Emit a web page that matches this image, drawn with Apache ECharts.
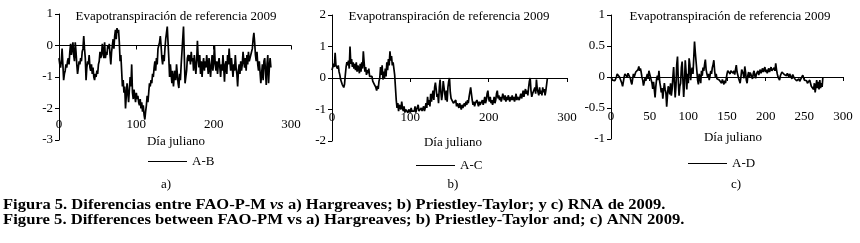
<!DOCTYPE html>
<html>
<head>
<meta charset="utf-8">
<script src="https://cdn.jsdelivr.net/npm/echarts@6/dist/echarts.min.js"></script>
<style>
  html, body { margin: 0; padding: 0; background: #fff; }
  #chart { width: 860px; height: 243px; }
</style>
</head>
<body>
<div id="chart"></div>
<script>
// daily differences, day 0 onward
const diffAB = [
  -0.4, -0.6, -0.7, -0.5, -0.1, -0.6, -1.1, -0.9, -0.8, -0.6,
  -0.7, -0.5, -0.4, -0.6, -0.2, 0.05, -0.3, -0.1, 0.1, -0.3,
  -0.5, 0.1, -0.2, -0.6, -0.9, -0.7, -0.5, -0.6, -0.4, -0.5,
  -0.2, -0.1, 0.3, -0.1, -0.4, -1.1, -0.7, -0.5, -0.6, -0.3,
  -0.7, -0.8, -0.6, -0.9, -0.7, -1.0, -1.1, -0.9, -1.0, -0.8,
  -0.9, -0.6, -0.5, -0.2, -0.4, -0.3, 0.05, -0.2, -0.4, 0.1,
  -0.4, -0.2, -0.3, 0.0, -0.1, 0.05, -0.3, -0.6, -0.2, 0.0,
  0.2, -0.1, 0.3, 0.5, 0.2, 0.55, 0.4, 0.5, 0.1, -0.5,
  -0.3, -0.8, -1.3, -1.1, -1.5, -1.3, -2.0, -1.6, -1.2, -1.5,
  -1.8, -1.4, -1.0, -1.3, -0.6, -1.5, -1.7, -1.4, -1.6, -1.8,
  -1.5, -1.7, -1.6, -1.8, -1.9, -1.7, -2.0, -1.8, -2.1, -1.9,
  -2.2, -2.35, -2.1, -1.9, -1.6, -1.8, -1.5, -1.2, -1.3, -1.1,
  -1.2, -0.9, -1.0, -0.7, -0.5, -0.8, -0.4, -0.6, -0.1, 0.0,
  0.1, 0.3, 0.0, -0.4, -0.6, -0.3, -0.5, -0.1, 0.2, 0.4,
  0.6, 0.1, -0.4, -1.0, -0.6, -0.9, -1.2, -0.8, -1.3, -1.0,
  -0.8, -1.1, -0.6, -0.9, -1.2, -1.35, -0.9, -1.1, -0.6, -0.2,
  0.2, 0.6, -0.3, -1.2, -1.0, -0.8, -0.4, -0.3, -0.5, -0.3,
  -0.6, -0.2, -0.5, -0.4, -0.8, -0.3, -0.6, -0.9, -0.5, 0.15,
  -0.4, -0.7, -0.3, -0.9, -0.5, -1.0, -0.6, -0.4, -0.8, -0.5,
  -0.7, -0.3, -0.6, -0.9, -0.4, -0.7, -1.0, -0.6, -0.3, -0.8,
  -0.5, 0.0, -0.6, -0.8, -0.5, -0.9, -0.6, -0.4, -0.7, -1.0,
  -0.6, -0.8, -0.3, -0.7, -1.15, -0.6, -0.5, -0.9, -0.3, -0.6,
  -0.1, -0.5, -0.8, -0.4, -0.7, -1.0, -0.6, -0.8, -0.3, -0.7,
  -0.9, -1.3, -0.8, -0.6, -0.9, -0.5, -0.8, -0.6, -0.2, -0.5,
  -0.7, -0.4, -0.8, -0.3, -0.6, -0.2, -0.5, -0.4, -0.4, -0.2,
  -0.1, 0.2, 0.4, 0.1, -0.3, -0.5, -0.2, -0.6, -0.8, -0.5,
  -0.5, -1.2, -0.9, -0.6, -1.1, -0.5, -0.4, -0.8, -1.25, -0.6,
  -0.3, -1.2, -0.7, -0.4, -0.7
];

const diffAC = [
  0.25, 0.3, 0.45, 0.35, 0.8, 0.4, 0.45, 0.3, 0.4, 0.2,
  0.1, -0.05, 0.0, -0.2, -0.15, -0.3, -0.2, 0.1, 0.35, 0.5,
  0.4, 0.55, 0.3, 1.0, 0.45, 0.6, 0.35, 0.5, 0.3, 0.45,
  0.25, 0.5, 0.2, 0.4, 0.3, 0.15, 0.45, 0.2, 0.5, 0.3,
  0.85, 0.5, 0.2, 0.35, 0.1, 0.25, 0.15, 0.3, 0.05, 0.1,
  0.0, 0.05, -0.1, -0.05, -0.2, -0.15, -0.3, -0.4, -0.25, -0.35,
  -0.1, 0.0, 0.35, 0.1, 0.4, -0.05, 0.2, 0.0, 0.3, 0.05,
  0.5, 0.25, 0.6, 0.4, 0.85, 0.55, 0.7, 0.4, 0.5, 0.3,
  0.1, -0.3, -0.7, -0.95, -0.8, -1.05, -0.85, -0.9, -1.0, -0.75,
  -0.95, -1.05, -0.9, -1.1, -1.0, -1.05, -0.95, -1.1, -1.0, -1.05,
  -1.1, -0.95, -1.05, -1.0, -1.1, -1.05, -0.9, -1.1, -1.0, -1.05,
  -0.85, -1.05, -1.0, -1.1, -0.95, -1.05, -1.0, -0.9, -1.05, -0.95,
  -0.8, -0.95, -0.6, -0.85, -0.7, -0.9, -0.5, -0.75, -0.55, -0.4,
  -0.7, -0.3, -0.15, -0.35, -0.6, -0.5, -0.8, -0.3, -0.05, -0.45,
  -0.7, -0.5, -0.1, -0.05, -0.5, -0.7, -0.4, -0.75, -0.3, -0.1,
  0.0, -0.45, -0.65, -0.7, -0.6, -0.8, -0.75, -0.85, -0.7, -0.9,
  -0.8, -0.85, -0.95, -0.8, -0.9, -1.0, -0.85, -0.95, -1.0, -0.8,
  -0.9, -0.75, -0.85, -0.7, -0.8, -0.6, -0.45, -0.3, -0.5, -0.7,
  -0.85, -0.75, -0.9, -0.8, -0.85, -0.7, -0.8, -0.9, -0.75, -0.85,
  -0.8, -0.9, -0.7, -0.85, -0.75, -0.6, -0.8, -0.7, -0.5, -0.4,
  -0.65, -0.75, -0.6, -0.8, -0.7, -0.85, -0.75, -0.6, -0.8, -0.7,
  -0.5, -0.4, -0.65, -0.55, -0.7, -0.6, -0.75, -0.65, -0.5, -0.6,
  -0.7, -0.55, -0.75, -0.6, -0.7, -0.55, -0.65, -0.75, -0.6, -0.7,
  -0.55, -0.7, -0.6, -0.75, -0.65, -0.5, -0.7, -0.6, -0.55, -0.7,
  -0.6, -0.5, -0.65, -0.55, -0.4, -0.6, -0.45, -0.35, -0.5, -0.4,
  -0.55, -0.3, -0.1, 0.0, -0.4, -0.6, -0.5, -0.55, -0.45, -0.3,
  -0.5, -0.05, -0.35, -0.45, -0.55, -0.3, -0.5, -0.4, -0.55, -0.3,
  -0.45, -0.35, -0.55, -0.4, -0.2, 0.0
];

const diffAD = [
  0.0, -0.03, -0.05, -0.08, -0.04, -0.06, -0.08, 0.0, 0.05, 0.03,
  0.07, 0.0, -0.02, 0.03, -0.1, -0.15, -0.12, 0.0, 0.05, 0.02,
  0.04, 0.0, 0.06, 0.03, 0.07, -0.02, -0.08, -0.12, -0.03, 0.05,
  0.0, 0.03, 0.08, 0.1, 0.06, 0.12, 0.17, 0.1, 0.14, 0.08,
  0.0, -0.05, -0.14, -0.08, -0.02, -0.06, 0.0, 0.05, -0.03, 0.1,
  0.05, 0.08, 0.02, -0.1, -0.19, -0.08, -0.2, -0.33, -0.15, -0.03,
  0.02, -0.05, 0.1, -0.08, -0.15, -0.25, -0.18, -0.35, -0.22, -0.1,
  -0.2, -0.25, -0.48, -0.3, -0.15, -0.2, -0.28, -0.1, -0.3, -0.2,
  0.0, 0.16, -0.1, -0.33, -0.15, 0.2, 0.33, -0.05, -0.3, -0.15,
  -0.1, 0.15, 0.25, -0.05, -0.32, -0.1, 0.27, 0.1, -0.2, 0.05,
  -0.1, 0.3, 0.2, -0.05, 0.1, 0.15, 0.05, 0.3, 0.57, 0.4,
  0.25, 0.1, -0.05, -0.12, 0.05, 0.0, -0.1, 0.1, 0.02, 0.15,
  0.1, 0.2, 0.28, 0.12, 0.05, 0.0, 0.05, -0.05, 0.02, 0.1,
  0.05, 0.15, 0.2, 0.27, 0.1, 0.0, 0.05, -0.03, -0.05, 0.0,
  -0.05, -0.02, -0.06, -0.1, -0.04, -0.08, -0.12, -0.06, -0.1, -0.03,
  0.05, 0.1, 0.08, 0.12, 0.05, 0.1, 0.08, 0.13, 0.06, 0.1,
  0.04, 0.12, 0.19, 0.08, 0.05, -0.02, -0.05, -0.1, 0.0, 0.12,
  0.15, 0.05, -0.02, 0.17, 0.08, -0.05, -0.1, 0.03, 0.08, 0.0,
  0.07, 0.1, 0.05, -0.03, 0.06, 0.1, 0.02, -0.02, 0.05, 0.08,
  0.1, 0.03, 0.08, 0.12, 0.06, 0.1, 0.14, 0.08, 0.12, 0.16,
  0.08, 0.12, 0.06, 0.1, 0.14, 0.08, 0.12, 0.16, 0.1, 0.13,
  0.08, 0.15, 0.1, 0.22, 0.12, 0.05, 0.0, -0.03, -0.05, 0.02,
  0.05, 0.08, 0.06, 0.1, 0.04, 0.07, 0.05, 0.02, 0.06, 0.03,
  0.0, 0.05, 0.08, 0.02, -0.03, 0.04, 0.06, -0.02, -0.05, -0.03,
  -0.06, -0.04, -0.05, -0.03, -0.07, -0.04, -0.02, 0.0, 0.03, 0.04,
  -0.05, -0.08, -0.04, -0.06, -0.1, -0.08, -0.12, -0.05, -0.1, -0.15,
  -0.12, -0.18, -0.2, -0.1, -0.25, -0.15, -0.05, -0.18, -0.08, -0.2,
  -0.05, -0.18, -0.1, -0.16, 0.0
];

const seriesNames = ['A-B', 'A-C', 'A-D'];
const panelTags = ['a)', 'b)', 'c)'];
const chartTitle = 'Evapotranspiración de referencia 2009';
const xName = 'Día juliano';
const yRanges = [[-3, 1, 1], [-2, 2, 1], [-1, 1, 0.5]];

const font = '"Liberation Serif", "Times New Roman", serif';
const chart = echarts.init(document.getElementById('chart'));

// panel layout: grid box, x label margin (from grid bottom), title / name / legend / tag positions
const panels = [
  { grid: [59, 14, 232, 126], lblMargin: -22, title: [176, 17], name: [176, 142], legend: [148, 155], tag: [166, 185] },
  { grid: [332, 15, 235, 126], lblMargin: -30, title: [449, 17], name: [453, 143], legend: [416, 159], tag: [453, 185] },
  { grid: [611, 15, 232, 124], lblMargin: -29, title: [730, 17], name: [733, 138], legend: [688, 157], tag: [736, 185] }
];
const allData = [diffAB, diffAC, diffAD];

const axisLine = { lineStyle: { color: '#000', width: 1 } };
const labelStyle = { color: '#000', fontFamily: font, fontSize: 13 };

const grids = [], xAxes = [], yAxes = [], series = [], legends = [], texts = [];
panels.forEach((p, i) => {
  grids.push({ left: p.grid[0], top: p.grid[1], width: p.grid[2], height: p.grid[3] });
  xAxes.push({
    gridIndex: i, type: 'value', min: 0, max: 300, interval: i === 2 ? 50 : 100,
    axisLine: { onZero: true, ...axisLine },
    axisTick: { show: true, length: 4, lineStyle: { color: '#000' } },
    axisLabel: { ...labelStyle, margin: p.lblMargin },
    splitLine: { show: false }
  });
  yAxes.push({
    gridIndex: i, type: 'value', min: yRanges[i][0], max: yRanges[i][1], interval: yRanges[i][2],
    axisLine: { show: true, ...axisLine },
    axisTick: { show: true, length: 4, lineStyle: { color: '#000' } },
    axisLabel: { ...labelStyle, margin: 6 },
    splitLine: { show: false }
  });
  series.push({
    name: seriesNames[i], type: 'line', xAxisIndex: i, yAxisIndex: i,
    data: allData[i].map((v, d) => [d, v]),
    showSymbol: false, animation: false,
    lineStyle: { color: '#000', width: 1.7 }, itemStyle: { color: '#000' }
  });
  legends.push({
    data: [seriesNames[i]], left: p.legend[0], top: p.legend[1], padding: 0,
    icon: 'rect', itemWidth: 39, itemHeight: 1.2,
    textStyle: { color: '#000', fontFamily: font, fontSize: 13 }
  });
  [[chartTitle, p.title], [xName, p.name], [panelTags[i], p.tag]].forEach(([t, pos]) => {
    texts.push({
      type: 'text', x: pos[0], y: pos[1],
      style: { text: t, font: '13px ' + font, fill: '#000', align: 'center', verticalAlign: 'middle' }
    });
  });
});

const capStyle = { font: 'bold 14px ' + font, fill: '#000', align: 'left', verticalAlign: 'middle' };
texts.push({
  type: 'text', x: 3, y: 205, scaleX: 1.18,
  style: {
    ...capStyle,
    text: 'Figura 5. Diferencias entre FAO-P-M {i|vs} a) Hargreaves; b) Priestley-Taylor; y c) RNA de 2009.',
    rich: { i: { font: 'italic bold 14px ' + font, fill: '#000' } }
  }
});
texts.push({
  type: 'text', x: 3, y: 220, scaleX: 1.19,
  style: { ...capStyle, text: 'Figure 5. Differences between FAO-PM vs a) Hargreaves; b) Priestley-Taylor and; c) ANN 2009.' }
});

chart.setOption({
  animation: false,
  backgroundColor: '#fff',
  grid: grids,
  xAxis: xAxes,
  yAxis: yAxes,
  series: series,
  legend: legends,
  graphic: texts
});
</script>
</body>
</html>
